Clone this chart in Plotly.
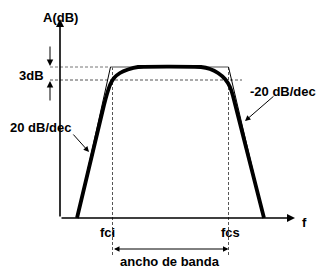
import plotly.graph_objects as go

# ---- data (abstract units: f from the A-axis origin, A in dB-like units above the f-axis) ----
curve_f = [17, 44, 47, 50, 54, 60, 68, 78, 141, 150, 158, 165, 170, 173, 204]
curve_A = [0, 113, 124, 133, 140, 145, 148.5, 151, 151, 149, 145, 139, 131, 122, 0]

asym_left_f = [17, 50.5]
asym_left_A = [0, 151]
asym_top_f = [50.5, 168.5]
asym_top_A = [151, 151]
asym_right_f = [168.5, 204]
asym_right_A = [151, 0]

fci = 52.5
fcs = 168.5
A_max = 151
A_3dB = 138

FONT = dict(family="Liberation Sans, Arial, sans-serif", size=13, color="black")

fig = go.Figure()

# dashed reference lines
fig.add_trace(go.Scatter(x=[-10, asym_top_f[0]], y=[A_max, A_max], mode="lines",
                         line=dict(color="#777777", width=1, dash="3px,2px"), hoverinfo="skip"))
fig.add_trace(go.Scatter(x=[-10, 182], y=[A_3dB, A_3dB], mode="lines",
                         line=dict(color="#555555", width=1, dash="3px,2px"), hoverinfo="skip"))
fig.add_trace(go.Scatter(x=[fci, fci], y=[A_max, -39], mode="lines",
                         line=dict(color="#555555", width=1, dash="3px,2px"), hoverinfo="skip"))
fig.add_trace(go.Scatter(x=[fcs, fcs], y=[A_max, -39], mode="lines",
                         line=dict(color="#555555", width=1, dash="3px,2px"), hoverinfo="skip"))

# asymptotes
fig.add_trace(go.Scatter(x=asym_top_f, y=asym_top_A, mode="lines",
                         line=dict(color="#888888", width=1.6), hoverinfo="skip"))
fig.add_trace(go.Scatter(x=asym_left_f, y=asym_left_A, mode="lines",
                         line=dict(color="black", width=1), hoverinfo="skip"))
fig.add_trace(go.Scatter(x=asym_right_f, y=asym_right_A, mode="lines",
                         line=dict(color="black", width=1), hoverinfo="skip"))

# real response
fig.add_trace(go.Scatter(x=curve_f, y=curve_A, mode="lines",
                         line=dict(color="black", width=3.8, shape="spline", smoothing=0.4),
                         hoverinfo="skip"))

ann = []

def arrow(x, y, ax, ay, w=1.0, head=2, size=1.0, side="end"):
    ann.append(dict(x=x, y=y, ax=ax, ay=ay, xref="x", yref="y", axref="x", ayref="y",
                    showarrow=True, arrowhead=head, arrowsize=size, arrowwidth=w,
                    arrowcolor="black", arrowside=side, text="", standoff=0, startstandoff=0))

def label(x, y, t, xa="center"):
    ann.append(dict(x=x, y=y, xref="x", yref="y", text=f"<b>{t}</b>", showarrow=False,
                    font=FONT, xanchor=xa, yanchor="middle", borderpad=0))

# labels (drawn first so axis arrows sit on top)
label(0.5, 201, "A(dB)")
label(-29, 143, "3dB")
label(-20, 91, "20 dB/dec")
label(223, 127, "-20 dB/dec")
label(47.5, -14, "fci")
label(170, -14, "fcs")
label(110, -43, "ancho de banda")
label(244, -4, "f")

# axes
arrow(0, 199, 0, 0, w=1.6, head=2, size=1.0)
arrow(235, 0, 0, 0, w=1.6, head=2, size=1.0)

# 3 dB arrows
arrow(-10, 152, -10, 173, w=1, head=2, size=1.3)
arrow(-10, 137, -10, 116, w=1, head=2, size=1.3)

# slope pointers
arrow(29, 66, 12, 85, w=1, head=2, size=1.1)
arrow(185, 97, 215, 123, w=1, head=2, size=1.1)

# bandwidth double arrow
arrow(fcs, -31, fci, -31, w=1, head=2, size=1.1, side="end+start")

fig.update_layout(
    width=316, height=268,
    margin=dict(l=0, r=0, t=0, b=0),
    paper_bgcolor="white", plot_bgcolor="white",
    showlegend=False,
    xaxis=dict(range=[-60, 256], visible=False, fixedrange=True),
    yaxis=dict(range=[-50, 218], visible=False, fixedrange=True),
    annotations=ann,
)

fig.write_html("out.html", config={"displayModeBar": False},
               post_script="document.body.style.margin='0';document.body.style.padding='0';")
